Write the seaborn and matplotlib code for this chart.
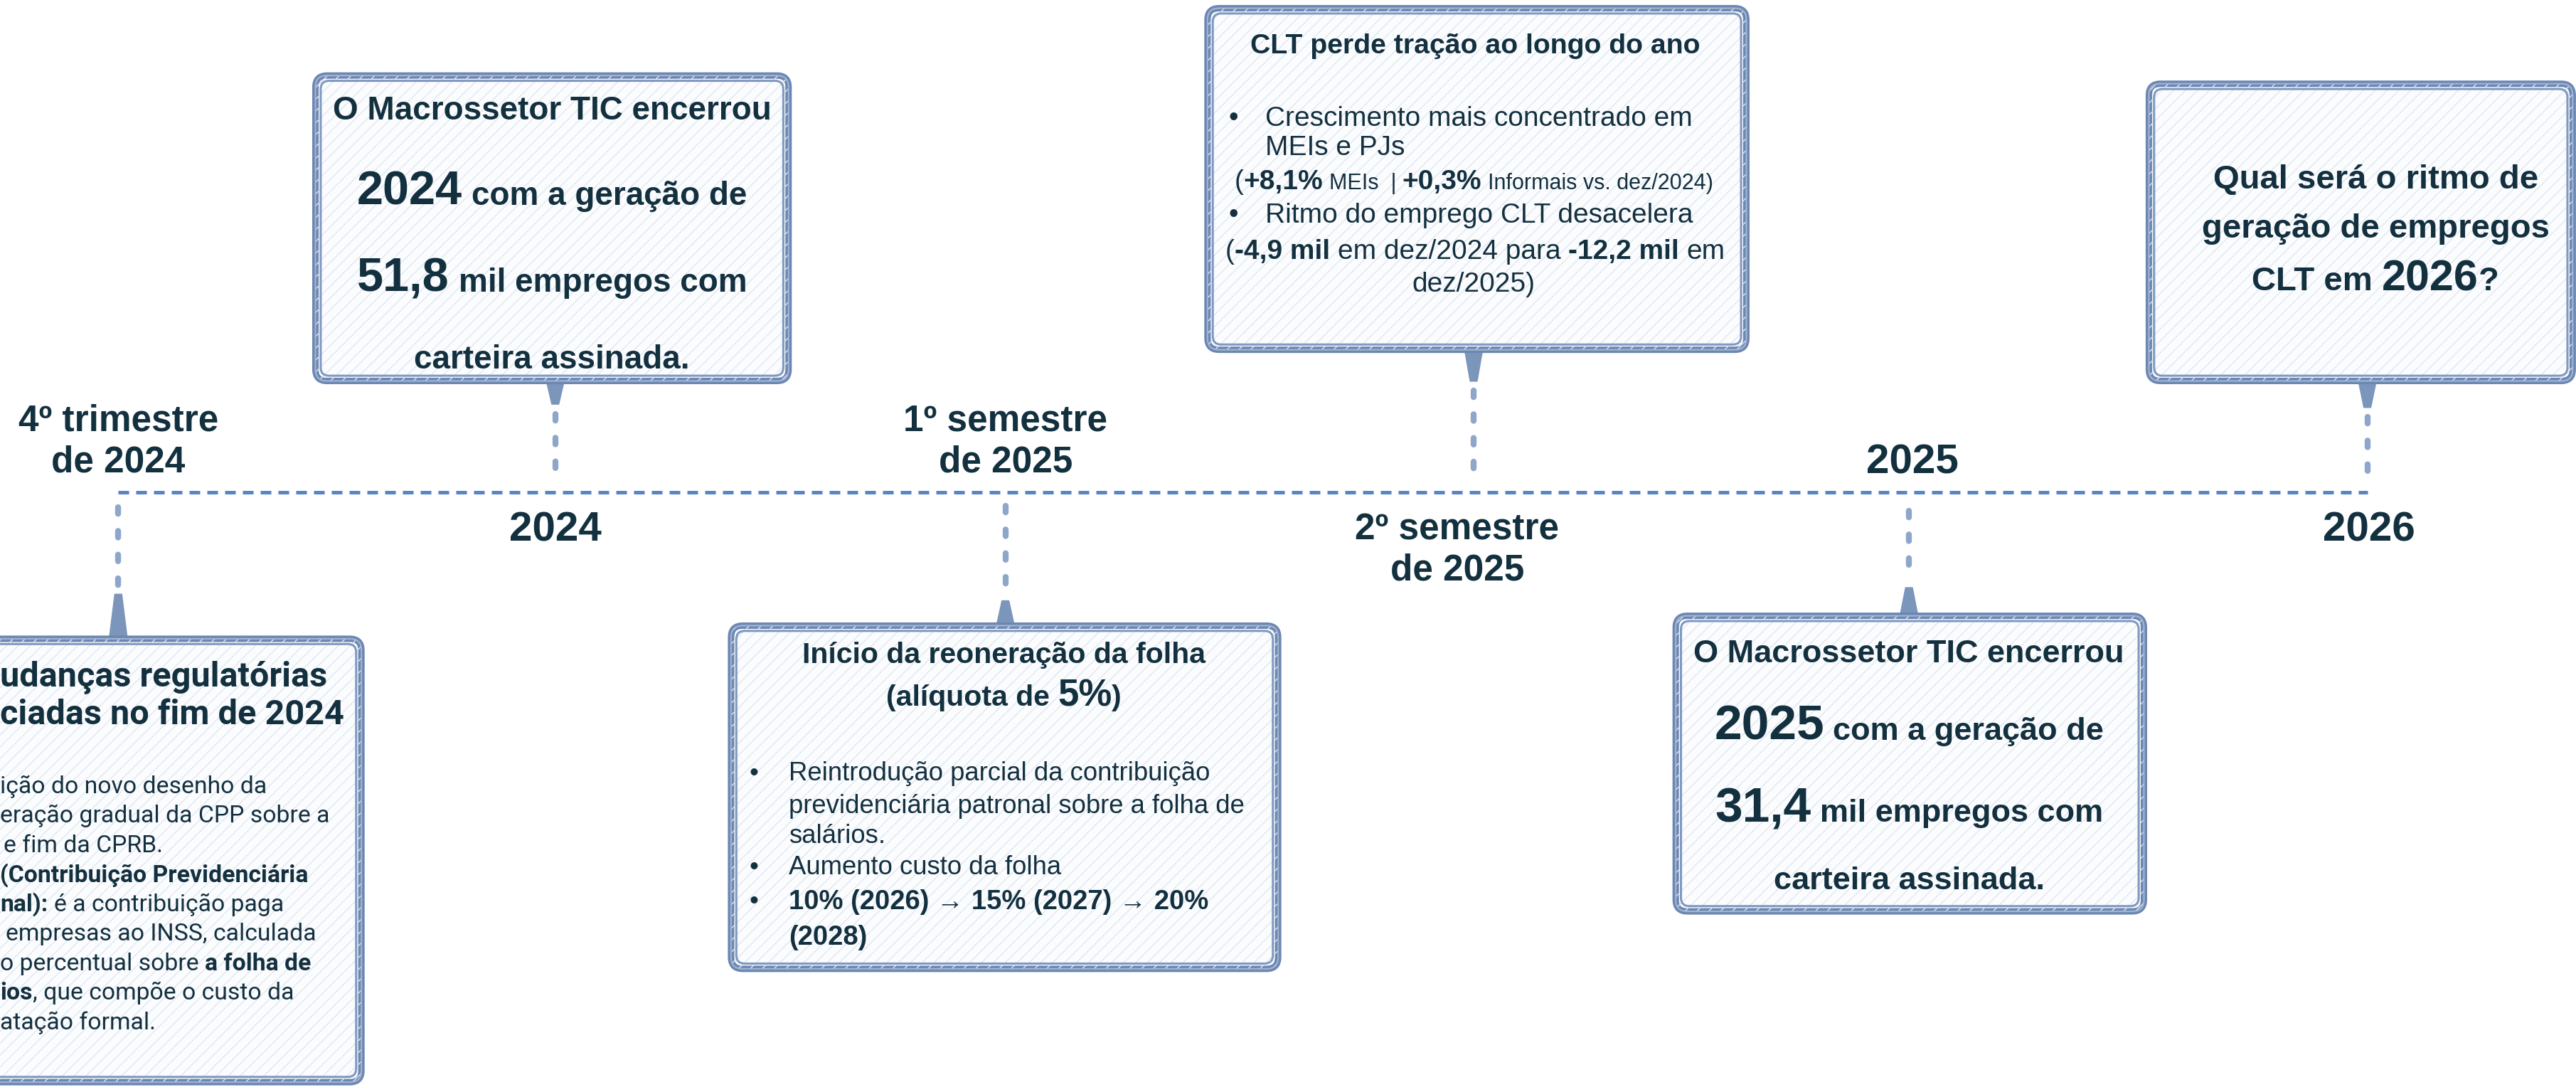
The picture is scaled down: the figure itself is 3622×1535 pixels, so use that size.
import pandas as pd
import matplotlib
matplotlib.use("Agg")
import matplotlib.pyplot as plt
import matplotlib.transforms as mtransforms
from matplotlib.patches import FancyBboxPatch, Polygon
from matplotlib.font_manager import FontProperties
import seaborn as sns

sns.set_theme(style="white")
FONTE = ['Liberation Sans', 'DejaVu Sans']
FONTE_A = ['Roboto', 'DejaVu Sans']
plt.rcParams['font.family'] = FONTE
plt.rcParams['hatch.linewidth'] = 1.0

TINTA = '#13303f'
AZUL = '#5786c4'
PINO = '#7b95bb'
PONTO = '#8ea6c9'
BORDA = '#6c87b2'

# ---------------- dados ----------------
marcos = ["4º trimestre\nde 2024", "2024", "1º semestre\nde 2025",
          "2º semestre\nde 2025", "2025", "2026"]
marcos_ano = [False, True, False, False, True, True]

caixa_regras = [[("udanças regulatórias", "t")],
                [("ciadas no fim de 2024", "t")],
                [("ição do novo desenho da", "r")],
                [("eração gradual da CPP sobre a", "r")],
                [("e fim da CPRB.", "r")],
                [("(Contribuição Previdenciária", "b")],
                [("nal):", "b"), (" é a contribuição paga", "r")],
                [(" empresas ao INSS, calculada", "r")],
                [("o percentual sobre ", "r"), ("a folha de", "b")],
                [("ios", "b"), (", que compõe o custo da", "r")],
                [("atação formal.", "r")]]

caixa_2024 = [[("O Macrossetor TIC encerrou", "b")],
              [("2024", "B"), (" com a geração de", "b")],
              [("51,8", "B"), (" mil empregos com", "b")],
              [("carteira assinada.", "b")]]

caixa_folha = [[("Início da reoneração da folha", "t")],
               [("(alíquota de ", "t"), ("5%", "T"), (")", "t")],
               [("Reintrodução parcial da contribuição", "r")],
               [("previdenciária patronal sobre a folha de", "r")],
               [("salários.", "r")],
               [("Aumento custo da folha", "r")],
               [("10% (2026) → 15% (2027) → 20%", "b")],
               [("(2028)", "b")]]

caixa_clt = [[("CLT perde tração ao longo do ano", "t")],
             [("Crescimento mais concentrado em", "r")],
             [("MEIs e PJs", "r")],
             [("(", "r"), ("+8,1%", "b"), (" MEIs  | ", "s"), ("+0,3%", "b"),
              (" Informais vs. dez/2024)", "s")],
             [("Ritmo do emprego CLT desacelera", "r")],
             [("(", "r"), ("-4,9 mil", "b"), (" em dez/2024 para ", "r"),
              ("-12,2 mil", "b"), (" em", "r")],
             [("dez/2025)", "r")]]

caixa_2025 = [[("O Macrossetor TIC encerrou", "b")],
              [("2025", "B"), (" com a geração de", "b")],
              [("31,4", "B"), (" mil empregos com", "b")],
              [("carteira assinada.", "b")]]

caixa_2026 = [[("Qual será o ritmo de", "b")],
              [("geração de empregos", "b")],
              [("CLT em ", "b"), ("2026", "B"), ("?", "b")]]

# ---------------- layout (coordenadas da imagem reduzida) ----------------
marco_x = [72, 338, 612, 887, 1164, 1442]
marco_y = [269, 323, 269, 335, 282, 323]
linha_y = 300

fig = plt.figure(figsize=(36.22, 15.35), dpi=100)
ax = fig.add_axes([0, 0, 1, 1])
renderer = fig.canvas.get_renderer()

# linha do tempo
tempo = pd.DataFrame({"x": [72, 1441], "y": [linha_y, linha_y]})
sns.lineplot(data=tempo, x="x", y="y", ax=ax, color=AZUL, lw=3.6,
             linestyle=(0, (3.0, 2.0)), zorder=2)

ax.set_xlim(0, 1568)
ax.set_ylim(665, 0)
ax.axis("off")


def largura(s, size, weight, family):
    fp = FontProperties(family=family, size=size, weight=weight)
    a = renderer.get_text_width_height_descent("|" + s + "|", fp, ismath=False)[0]
    b = renderer.get_text_width_height_descent("||", fp, ismath=False)[0]
    return a - b


def escreve(x, y, partes, ha="center", family=FONTE):
    ws = [largura(s, sz, wt, family) for s, sz, wt in partes]
    tot = sum(ws)
    off = {"left": 0, "center": -tot / 2, "right": -tot}[ha]
    ref = max(partes, key=lambda p: len(p[0]))[1]
    yb = y + 0.2 * ref
    for (s, sz, wt), w in zip(partes, ws):
        core = s.lstrip(" ")
        lead = largura(s[:len(s) - len(core)], sz, wt, family)
        tr = mtransforms.offset_copy(ax.transData, fig=fig, x=off + lead, y=0, units="dots")
        ax.text(x, yb, core, fontsize=sz, fontweight=wt, family=family, color=TINTA,
                ha="left", va="baseline", transform=tr, zorder=6)
        off += w


def quadro(x0, y0, x1, y1):
    w, h = x1 - x0, y1 - y0
    ax.add_patch(FancyBboxPatch((x0, y0), w, h, boxstyle="round,pad=0,rounding_size=7",
                                fc="#fbfcfe", ec=BORDA, lw=6.5, zorder=3))
    ax.add_patch(FancyBboxPatch((x0, y0), w, h, boxstyle="round,pad=0,rounding_size=7",
                                fc="none", ec="#e1e7f1", lw=0, hatch="//", zorder=3.1))
    ax.add_patch(FancyBboxPatch((x0, y0), w, h, boxstyle="round,pad=0,rounding_size=7",
                                fc="none", ec="#a3b6d3", lw=1.5, zorder=3.15))
    ax.add_patch(FancyBboxPatch((x0 + 3.2, y0 + 3.2), w - 6.4, h - 6.4,
                                boxstyle="round,pad=0,rounding_size=5",
                                fc="none", ec="#7f99c1", lw=2.2, zorder=3.2))


def pino(x, y_base, y_ponta):
    ax.add_patch(Polygon([(x - 5.5, y_base), (x + 5.5, y_base), (x + 2.0, y_ponta),
                          (x - 2.0, y_ponta)], closed=True, fc=PINO, ec=PINO, lw=1.5,
                         joinstyle="round", zorder=2.5))


def pontilhado(x, y0, y1):
    ax.plot([x, x], [y0, y1], color=PONTO, lw=6, linestyle=(0, (1.1, 2.9)),
            dash_capstyle="round", zorder=2)


def desenha(linhas, xs, ys, has, estilos, family=FONTE, bullets=(), xb=None):
    for i, (linha, x, y, ha) in enumerate(zip(linhas, xs, ys, has)):
        partes = [(s, estilos[k][0], estilos[k][1]) for s, k in linha]
        escreve(x, y, partes, ha=ha, family=family)
        if i in bullets:
            sz = estilos["r"][0]
            escreve(xb, y, [("•", sz, "normal")], ha="left", family=family)


# conectores
pontilhado(72, 309, 358); pino(72, 390, 362)
pino(338, 231, 246); pontilhado(338, 252, 291)
pontilhado(612, 308, 362); pino(612, 382, 366)
pino(897, 212, 232); pontilhado(897, 238, 290)
pontilhado(1162, 311, 354); pino(1162, 376, 358)
pino(1441, 231, 248); pontilhado(1441, 254, 297)

# quadros
quadro(-40, 389, 220, 659)
quadro(192, 46, 480, 232)
quadro(735, 5, 1063, 213)
quadro(445, 381, 778, 590)
quadro(1020, 375, 1305, 555)
quadro(1308, 51, 1566, 232)

# rótulos da linha do tempo
for rot, x, y, ano in zip(marcos, marco_x, marco_y, marcos_ano):
    ax.text(x, y, rot, ha="center", va="center", fontsize=42 if ano else 37,
            fontweight="bold", color=TINTA, linespacing=1.22, zorder=6)

# textos dos quadros
desenha(caixa_regras, [0, 0, 0, 0, 2, 0, 0, 0, 0, 0, 0],
        [411, 434, 478, 496, 514, 532, 550, 568, 586, 604, 622], ["left"] * 11,
        {"t": (35, "bold"), "r": (24.3, "normal"), "b": (24.3, "bold")}, family=FONTE_A)

desenha(caixa_2024, [336] * 4, [66, 118, 171, 218], ["center"] * 4,
        {"b": (33, "bold"), "B": (48, "bold")})

desenha(caixa_clt, [898, 770, 770, 897, 770, 898, 897], [27, 71, 89, 111, 130, 152, 172],
        ["center", "left", "left", "center", "left", "center", "center"],
        {"t": (28.3, "bold"), "r": (28, "normal"), "b": (28, "bold"), "s": (22, "normal")},
        bullets=(1, 4), xb=748)

desenha(caixa_folha, [611, 611, 480, 480, 480, 480, 480, 480],
        [398, 424, 470, 490, 508, 527, 548, 570], ["center", "center"] + ["left"] * 6,
        {"t": (29.5, "bold"), "T": (38, "bold"), "r": (26.3, "normal"), "b": (27.5, "bold")},
        bullets=(2, 5, 6), xb=456)

desenha(caixa_2025, [1162] * 4, [397, 444, 494, 535], ["center"] * 4,
        {"b": (32.5, "bold"), "B": (50, "bold")})

desenha(caixa_2026, [1446] * 3, [108, 138, 170], ["center"] * 3,
        {"b": (34, "bold"), "B": (44, "bold")})

fig.savefig("out.png", dpi=100, facecolor="white")
